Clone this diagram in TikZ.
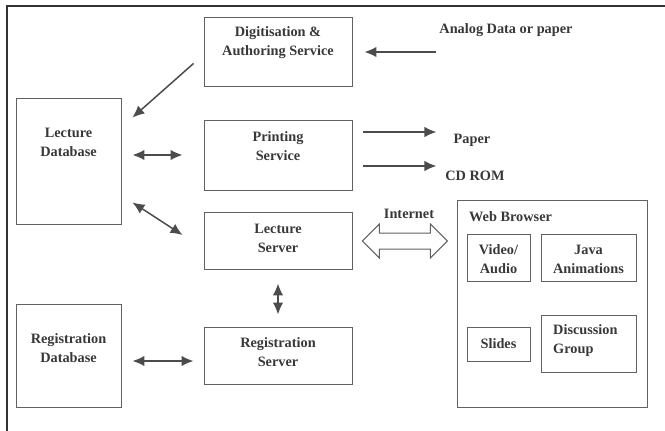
\documentclass[tikz,border=0pt]{standalone}
\usepackage{fontspec}
\setmainfont{Liberation Serif}
\usetikzlibrary{arrows.meta,calc}
\tikzset{
  box/.style={draw=boxgray, line width=0.9pt, inner sep=0pt},
  lbl/.style={font=\fontsize{14.3}{19}\selectfont\bfseries, text=txtgray, align=center, inner sep=0pt},
  arr/.style={draw=arrgray, line width=1.5pt, -{Latex[length=12pt,width=10.5pt]}},
  dbl/.style={draw=arrgray, line width=1.5pt, {Latex[length=12pt,width=10.5pt]}-{Latex[length=12pt,width=10.5pt]}},
  hollow/.style={draw=boxgray, line width=1pt, line join=miter}
}
\begin{document}
\begin{tikzpicture}[x=1pt,y=-1pt]
\definecolor{boxgray}{rgb}{0.38,0.38,0.38}
\definecolor{arrgray}{rgb}{0.3,0.3,0.3}
\definecolor{txtgray}{rgb}{0.22,0.22,0.22}
\definecolor{framegray}{rgb}{0.2,0.2,0.2}
\useasboundingbox (0,0) rectangle (665,431);
% page edge
\draw [line width=1.8pt,color=framegray] (7,431)-- (7,6)-- (665,6);
% boxes
\node[box, minimum width=148pt, minimum height=69pt] (dig) at (278,51.5) {};
\node[box, minimum width=105pt, minimum height=126pt] (ldb) at (68.5,161) {};
\node[box, minimum width=148pt, minimum height=70pt] (prn) at (278,155) {};
\node[box, minimum width=148pt, minimum height=57pt] (lsv) at (278,240.5) {};
\node[box, minimum width=148pt, minimum height=57pt] (rsv) at (278,355.5) {};
\node[box, minimum width=105pt, minimum height=103pt] (rdb) at (68.5,355.5) {};
\node[box, minimum width=190pt, minimum height=207pt] (web) at (552,303.5) {};
\node[box, minimum width=63pt, minimum height=47pt] (vid) at (498.5,257.5) {};
\node[box, minimum width=95pt, minimum height=47pt] (jav) at (588.5,257.5) {};
\node[box, minimum width=63pt, minimum height=34pt] (sld) at (498.5,344) {};
\node[box, minimum width=95pt, minimum height=57pt] (dsc) at (588.5,343.5) {};
% texts
\node[lbl] (digtxt) at (278,43) {Digitisation \&\\Authoring Service};
\node[lbl] (ldbtxt) at (68.5,142) {Lecture\\Database};
\node[lbl] (prntxt) at (278,146.5) {Printing\\Service};
\node[lbl] (lsvtxt) at (278,238.5) {Lecture\\Server};
\node[lbl] (rsvtxt) at (278,352.5) {Registration\\Server};
\node[lbl] (rdbtxt) at (68.5,348.5) {Registration\\Database};
\node[lbl, anchor=west] (webtxt) at (469,217) {Web Browser};
\node[lbl] (vidtxt) at (498.5,259.5) {Video/\\Audio};
\node[lbl] (javtxt) at (588.5,259.5) {Java\\Animations};
\node[lbl] (sldtxt) at (498.5,344) {Slides};
\node[lbl, align=left, anchor=west] (dsctxt) at (553,341) {Discussion\\Group};
\node[lbl] (analog) at (506,30) {Analog Data or paper};
\node[lbl] (paper) at (472,140) {Paper};
\node[lbl] (cdrom) at (475,176) {CD ROM};
\node[lbl] (inet) at (409,214) {Internet};
% connectors
\coordinate (anaend) at (436,52);
\draw[arr] (anaend) -- ($(dig.east|-anaend)+(12,0)$);
\draw[arr] ($(dig.south west)+(-10,-23)$) -- ($(ldb.north east)+(11,20)$);
\draw[dbl] ($(ldb.east|-prn.west)+(11,0)$) -- ($(prn.west)+(-21,0)$);
\draw[dbl] ($(ldb.south east)+(11,-22)$) -- ($(lsv.west)+(-21,-5.5)$);
\draw[arr] ($(prn.east)+(11,-23)$) -- ($(prn.east)+(84,-23)$);
\draw[arr] ($(prn.east)+(11,11)$) -- ($(prn.east)+(84,11)$);
\draw[dbl] ($(lsv.south)+(0,14)$) -- ($(rsv.north)+(0,-12)$);
\draw[dbl] ($(rdb.east)+(11,5.5)$) -- ($(rsv.west)+(-10,5.5)$);
% internet arrow
\draw[hollow] ($(lsv.east)+(10,0.5)$) -- ++(17,-17) -- ++(0,9) -- ++(51,0) -- ++(0,-9) -- ++(17,17)
  -- ++(-17,17) -- ++(0,-9) -- ++(-51,0) -- ++(0,9) -- cycle;
\end{tikzpicture}
\end{document}
